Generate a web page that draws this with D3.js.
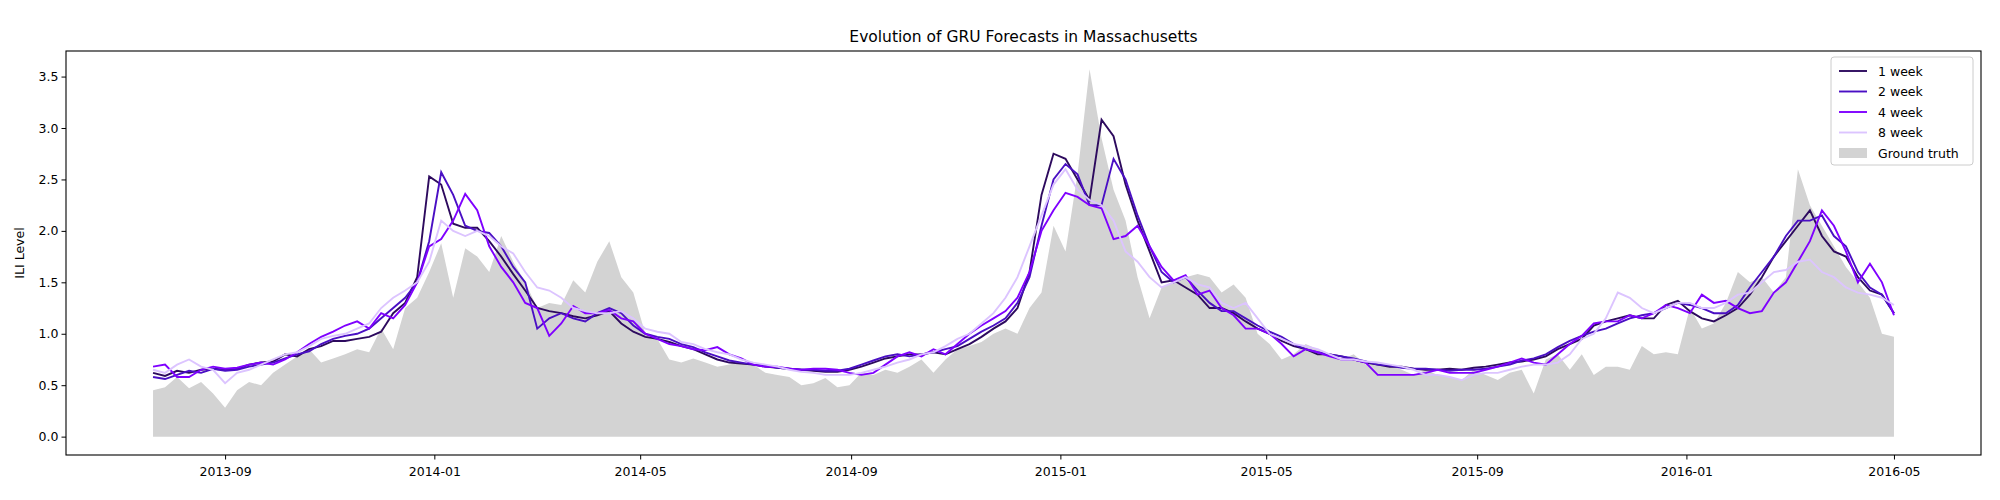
<!DOCTYPE html>
<html>
<head>
<meta charset="utf-8">
<script src="https://cdn.jsdelivr.net/npm/d3@7"></script>
<style>
  body { margin: 0; background: #fff; }
  text { font-family: "DejaVu Sans", sans-serif; }
</style>
</head>
<body>
<svg id="chart" width="2000" height="500"></svg>
<script>
const startDate = "2013-07-21";

const truth = [
  0.45,0.48,0.58,0.47,0.53,0.42,0.28,0.45,0.53,0.50,
  0.62,0.70,0.78,0.85,0.72,0.76,0.80,0.85,0.82,1.05,
  0.85,1.25,1.35,1.60,1.88,1.35,1.83,1.75,1.60,1.95,
  1.70,1.50,1.25,1.30,1.28,1.52,1.40,1.70,1.90,1.55,
  1.40,1.00,0.95,0.75,0.72,0.76,0.72,0.68,0.70,0.72,
  0.70,0.62,0.60,0.58,0.50,0.52,0.57,0.48,0.50,0.62,
  0.60,0.65,0.62,0.68,0.75,0.62,0.75,0.85,0.88,0.92,
  1.00,1.05,1.00,1.25,1.40,2.05,1.80,2.55,3.57,2.90,
  2.40,2.10,1.55,1.15,1.45,1.50,1.55,1.58,1.55,1.40,
  1.48,1.35,1.00,0.90,0.75,0.80,0.90,0.85,0.78,0.75,
  0.80,0.70,0.72,0.70,0.65,0.60,0.65,0.60,0.58,0.55,
  0.65,0.60,0.55,0.62,0.65,0.42,0.75,0.80,0.65,0.80,
  0.60,0.68,0.68,0.65,0.88,0.80,0.82,0.80,1.25,1.05,
  1.10,1.30,1.60,1.50,1.55,1.40,1.55,2.60,2.25,2.05,
  1.85,1.65,1.50,1.35,1.00,0.97
];

const week1 = [
  0.62,0.59,0.64,0.62,0.65,0.66,0.65,0.66,0.70,0.72,
  0.73,0.80,0.78,0.85,0.88,0.93,0.93,0.95,0.97,1.02,
  1.20,1.30,1.55,2.53,2.45,2.07,2.03,2.03,1.90,1.75,
  1.58,1.42,1.25,1.22,1.20,1.17,1.15,1.18,1.22,1.10,
  1.02,0.97,0.95,0.92,0.88,0.85,0.80,0.75,0.72,0.71,
  0.70,0.68,0.67,0.66,0.65,0.64,0.63,0.63,0.65,0.68,
  0.72,0.76,0.78,0.80,0.80,0.82,0.80,0.85,0.90,0.97,
  1.05,1.12,1.25,1.60,2.35,2.75,2.70,2.50,2.30,3.08,
  2.92,2.45,2.10,1.80,1.50,1.52,1.45,1.38,1.25,1.25,
  1.20,1.12,1.05,1.00,0.93,0.88,0.85,0.80,0.80,0.78,
  0.75,0.72,0.70,0.68,0.68,0.66,0.65,0.65,0.66,0.65,
  0.67,0.68,0.70,0.72,0.73,0.75,0.78,0.85,0.90,0.95,
  1.08,1.12,1.15,1.18,1.15,1.15,1.28,1.32,1.22,1.15,
  1.12,1.18,1.25,1.38,1.55,1.75,1.90,2.05,2.20,1.95,
  1.80,1.75,1.55,1.42,1.38,1.20
];

const week2 = [
  0.58,0.56,0.60,0.64,0.62,0.66,0.64,0.65,0.68,0.70,
  0.72,0.76,0.80,0.83,0.90,0.95,0.98,1.00,1.05,1.15,
  1.25,1.35,1.50,1.90,2.57,2.35,2.05,2.00,1.98,1.85,
  1.65,1.50,1.05,1.15,1.20,1.15,1.12,1.20,1.25,1.20,
  1.08,1.00,0.97,0.95,0.90,0.87,0.82,0.78,0.74,0.72,
  0.70,0.69,0.67,0.66,0.65,0.65,0.64,0.64,0.66,0.70,
  0.74,0.78,0.80,0.78,0.80,0.82,0.85,0.88,0.95,1.02,
  1.08,1.15,1.30,1.55,2.05,2.50,2.65,2.55,2.25,2.25,
  2.70,2.50,2.15,1.85,1.60,1.50,1.55,1.42,1.30,1.22,
  1.22,1.15,1.08,1.02,0.97,0.90,0.85,0.82,0.80,0.78,
  0.76,0.73,0.70,0.69,0.67,0.66,0.66,0.65,0.64,0.65,
  0.65,0.66,0.68,0.70,0.74,0.76,0.80,0.87,0.93,0.98,
  1.02,1.05,1.10,1.15,1.18,1.20,1.25,1.30,1.28,1.25,
  1.20,1.20,1.28,1.45,1.60,1.75,1.95,2.10,2.10,2.15,
  1.95,1.85,1.60,1.45,1.38,1.20
];

const week4 = [
  0.68,0.70,0.58,0.58,0.65,0.68,0.66,0.67,0.70,0.72,
  0.70,0.75,0.82,0.90,0.97,1.02,1.08,1.12,1.05,1.20,
  1.15,1.28,1.50,1.85,1.92,2.10,2.36,2.20,1.85,1.65,
  1.50,1.30,1.25,0.98,1.10,1.27,1.20,1.20,1.23,1.15,
  1.12,1.00,0.95,0.90,0.88,0.85,0.84,0.87,0.80,0.76,
  0.70,0.68,0.68,0.66,0.65,0.66,0.66,0.65,0.62,0.60,
  0.62,0.70,0.78,0.82,0.78,0.85,0.80,0.90,1.00,1.08,
  1.15,1.22,1.35,1.60,2.00,2.20,2.37,2.33,2.25,2.22,
  1.92,1.95,2.05,1.85,1.65,1.52,1.57,1.38,1.42,1.25,
  1.18,1.05,1.05,1.00,0.90,0.78,0.85,0.82,0.78,0.75,
  0.75,0.72,0.60,0.60,0.60,0.60,0.62,0.65,0.62,0.62,
  0.62,0.65,0.68,0.72,0.76,0.72,0.70,0.80,0.90,0.98,
  1.10,1.12,1.12,1.18,1.15,1.20,1.28,1.25,1.20,1.38,
  1.30,1.32,1.25,1.20,1.22,1.40,1.50,1.70,1.90,2.20,
  2.05,1.80,1.50,1.68,1.50,1.18
];

const week8 = [
  0.65,0.62,0.70,0.75,0.68,0.65,0.52,0.62,0.65,0.70,
  0.75,0.80,0.82,0.88,0.95,0.98,1.00,1.05,1.10,1.25,
  1.35,1.42,1.50,1.70,2.10,2.00,1.95,2.00,1.95,1.85,
  1.78,1.60,1.45,1.42,1.35,1.25,1.22,1.20,1.20,1.22,
  1.15,1.05,1.02,1.00,0.92,0.90,0.85,0.82,0.80,0.75,
  0.72,0.70,0.68,0.65,0.63,0.62,0.60,0.60,0.60,0.62,
  0.65,0.68,0.72,0.75,0.80,0.82,0.88,0.95,1.00,1.10,
  1.20,1.35,1.55,1.85,2.15,2.45,2.60,2.40,2.30,2.25,
  2.10,1.80,1.70,1.55,1.45,1.50,1.55,1.48,1.45,1.30,
  1.25,1.30,1.15,1.00,0.95,0.90,0.88,0.85,0.80,0.75,
  0.75,0.73,0.72,0.70,0.68,0.65,0.60,0.60,0.58,0.55,
  0.60,0.62,0.62,0.65,0.68,0.70,0.70,0.72,0.80,0.95,
  1.00,1.15,1.40,1.35,1.25,1.20,1.25,1.30,1.30,1.25,
  1.25,1.30,1.38,1.40,1.50,1.60,1.62,1.70,1.72,1.60,
  1.55,1.45,1.40,1.38,1.35,1.28
];

const seriesNames = ["1 week", "2 week", "4 week", "8 week"];
const seriesColors = ["#2d0a5e", "#4a0fc4", "#7f00ff", "#dcc4ff"];
const yTicks = [0, 0.5, 1, 1.5, 2, 2.5, 3, 3.5];

const svg = d3.select("#chart");
const m = { left: 66, right: 19, top: 51, bottom: 45 };
const W = 2000, H = 500;

const parse = d3.timeParse("%Y-%m-%d");
const t0 = parse(startDate);
const dates = truth.map((_, i) => d3.timeDay.offset(t0, i * 7));
const tEnd = dates[dates.length - 1];
const pad = (tEnd - t0) * 0.05;

const x = d3.scaleTime()
  .domain([new Date(+t0 - pad), new Date(+tEnd + pad)])
  .range([m.left, W - m.right]);
const yMax = 3.57, yPad = yMax * 0.05;
const y = d3.scaleLinear()
  .domain([-yPad, yMax + yPad])
  .range([H - m.bottom, m.top]);

// ground truth area
svg.append("path")
  .datum(truth)
  .attr("fill", "#d3d3d3")
  .attr("d", d3.area()
    .x((d, i) => x(dates[i]))
    .y0(y(0))
    .y1(d => y(d)));

// forecast lines
[week1, week2, week4, week8].forEach((vals, k) => {
  svg.append("path")
    .datum(vals)
    .attr("fill", "none")
    .attr("stroke", seriesColors[k])
    .attr("stroke-width", 1.9)
    .attr("d", d3.line()
      .x((d, i) => x(dates[i]))
      .y(d => y(d)));
});

// axes
const xTicks = [];
for (let d = parse("2013-09-01"); d <= parse("2016-05-01"); d = d3.timeMonth.offset(d, 4)) xTicks.push(d);

const xAxis = svg.append("g")
  .attr("transform", `translate(0,${H - m.bottom})`)
  .call(d3.axisBottom(x).tickValues(xTicks).tickFormat(d3.timeFormat("%Y-%m")).tickSizeOuter(0).tickSize(4.5));
const yAxis = svg.append("g")
  .attr("transform", `translate(${m.left},0)`)
  .call(d3.axisLeft(y).tickValues(yTicks).tickFormat(d3.format(".1f")).tickSizeOuter(0).tickSize(4.5));
[xAxis, yAxis].forEach(g => {
  g.selectAll("text").attr("font-size", 12.5).attr("fill", "#000").attr("font-family", "DejaVu Sans");
  g.select(".domain").remove();
});
xAxis.selectAll("text").attr("dy", "1.05em");

svg.append("rect")
  .attr("x", m.left).attr("y", m.top)
  .attr("width", W - m.left - m.right).attr("height", H - m.top - m.bottom)
  .attr("fill", "none").attr("stroke", "#000").attr("stroke-width", 1.1);

svg.append("text")
  .attr("x", (m.left + W - m.right) / 2).attr("y", m.top - 9)
  .attr("text-anchor", "middle").attr("font-size", 15.5)
  .text("Evolution of GRU Forecasts in Massachusetts");

svg.append("text")
  .attr("transform", `translate(24,${(m.top + H - m.bottom) / 2}) rotate(-90)`)
  .attr("text-anchor", "middle").attr("font-size", 12.5)
  .text("ILI Level");

// legend
const lg = svg.append("g").attr("transform", "translate(1831,57)");
lg.append("rect").attr("width", 142).attr("height", 108).attr("rx", 3)
  .attr("fill", "#fff").attr("fill-opacity", 0.8).attr("stroke", "#ccc");
seriesNames.forEach((n, k) => {
  const yy = 14 + k * 20.5;
  lg.append("line").attr("x1", 8).attr("x2", 36).attr("y1", yy).attr("y2", yy)
    .attr("stroke", seriesColors[k]).attr("stroke-width", 1.9);
  lg.append("text").attr("x", 47).attr("y", yy + 4.5).attr("font-size", 12.5).text(n);
});
lg.append("rect").attr("x", 8).attr("y", 14 + 4 * 20.5 - 5).attr("width", 28).attr("height", 10).attr("fill", "#d3d3d3");
lg.append("text").attr("x", 47).attr("y", 14 + 4 * 20.5 + 4.5).attr("font-size", 12.5).text("Ground truth");
</script>
</body>
</html>
